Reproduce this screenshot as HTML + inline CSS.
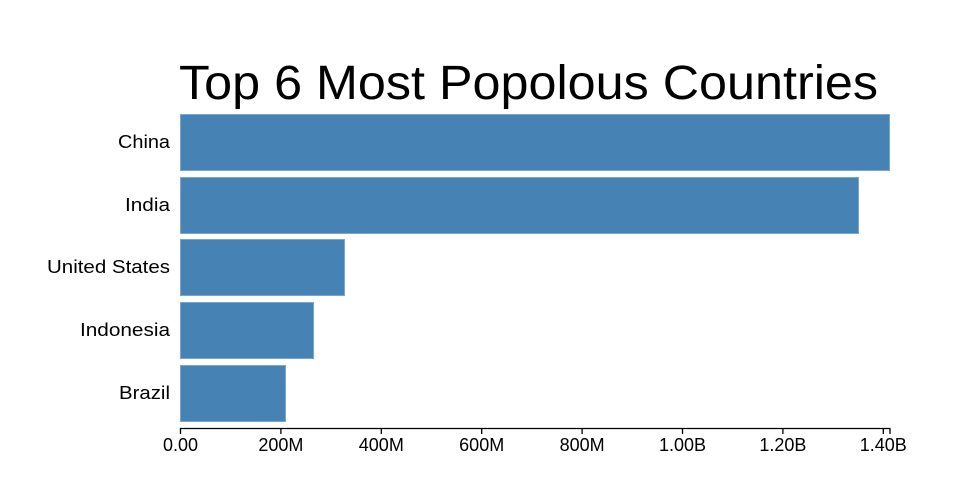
<!DOCTYPE html>
<html><head><style>body{margin:0;background:#fff}svg{display:block}</style></head><body>
<svg width="960" height="500" xmlns="http://www.w3.org/2000/svg" font-family="'Liberation Sans',sans-serif">
<text x="179" y="99" font-size="48" fill="#000" textLength="699" lengthAdjust="spacingAndGlyphs">Top 6 Most Popolous Countries</text>
<g fill="#4682b4" stroke="#7aa6d0" stroke-width="1">
<rect x="180.5" y="114.5" width="709" height="56"/>
<rect x="180.5" y="177.5" width="678" height="56"/>
<rect x="180.5" y="239.5" width="164" height="56"/>
<rect x="180.5" y="302.5" width="133" height="56"/>
<rect x="180.5" y="365.5" width="105" height="56"/>
</g>
<g font-size="18" fill="#000" text-anchor="end">
<text x="170" y="148" textLength="52" lengthAdjust="spacingAndGlyphs">China</text>
<text x="170" y="211" textLength="45" lengthAdjust="spacingAndGlyphs">India</text>
<text x="170" y="273" textLength="123" lengthAdjust="spacingAndGlyphs">United States</text>
<text x="170" y="336" textLength="90" lengthAdjust="spacingAndGlyphs">Indonesia</text>
<text x="170" y="399" textLength="51" lengthAdjust="spacingAndGlyphs">Brazil</text>
</g>
<g stroke="#000" stroke-width="1.3" fill="none">
<path d="M180.5,434V428.5H890V434"/>
<path d="M280.9,428.5V434M381.3,428.5V434M481.7,428.5V434M582.1,428.5V434M682.5,428.5V434M782.9,428.5V434M883.3,428.5V434"/>
</g>
<g font-size="18" fill="#000" text-anchor="middle">
<text x="180.5" y="451">0.00</text>
<text x="280.9" y="451">200M</text>
<text x="381.3" y="451">400M</text>
<text x="481.7" y="451">600M</text>
<text x="582.1" y="451">800M</text>
<text x="682.5" y="451">1.00B</text>
<text x="782.9" y="451">1.20B</text>
<text x="883.3" y="451">1.40B</text>
</g>
</svg>
</body></html>
